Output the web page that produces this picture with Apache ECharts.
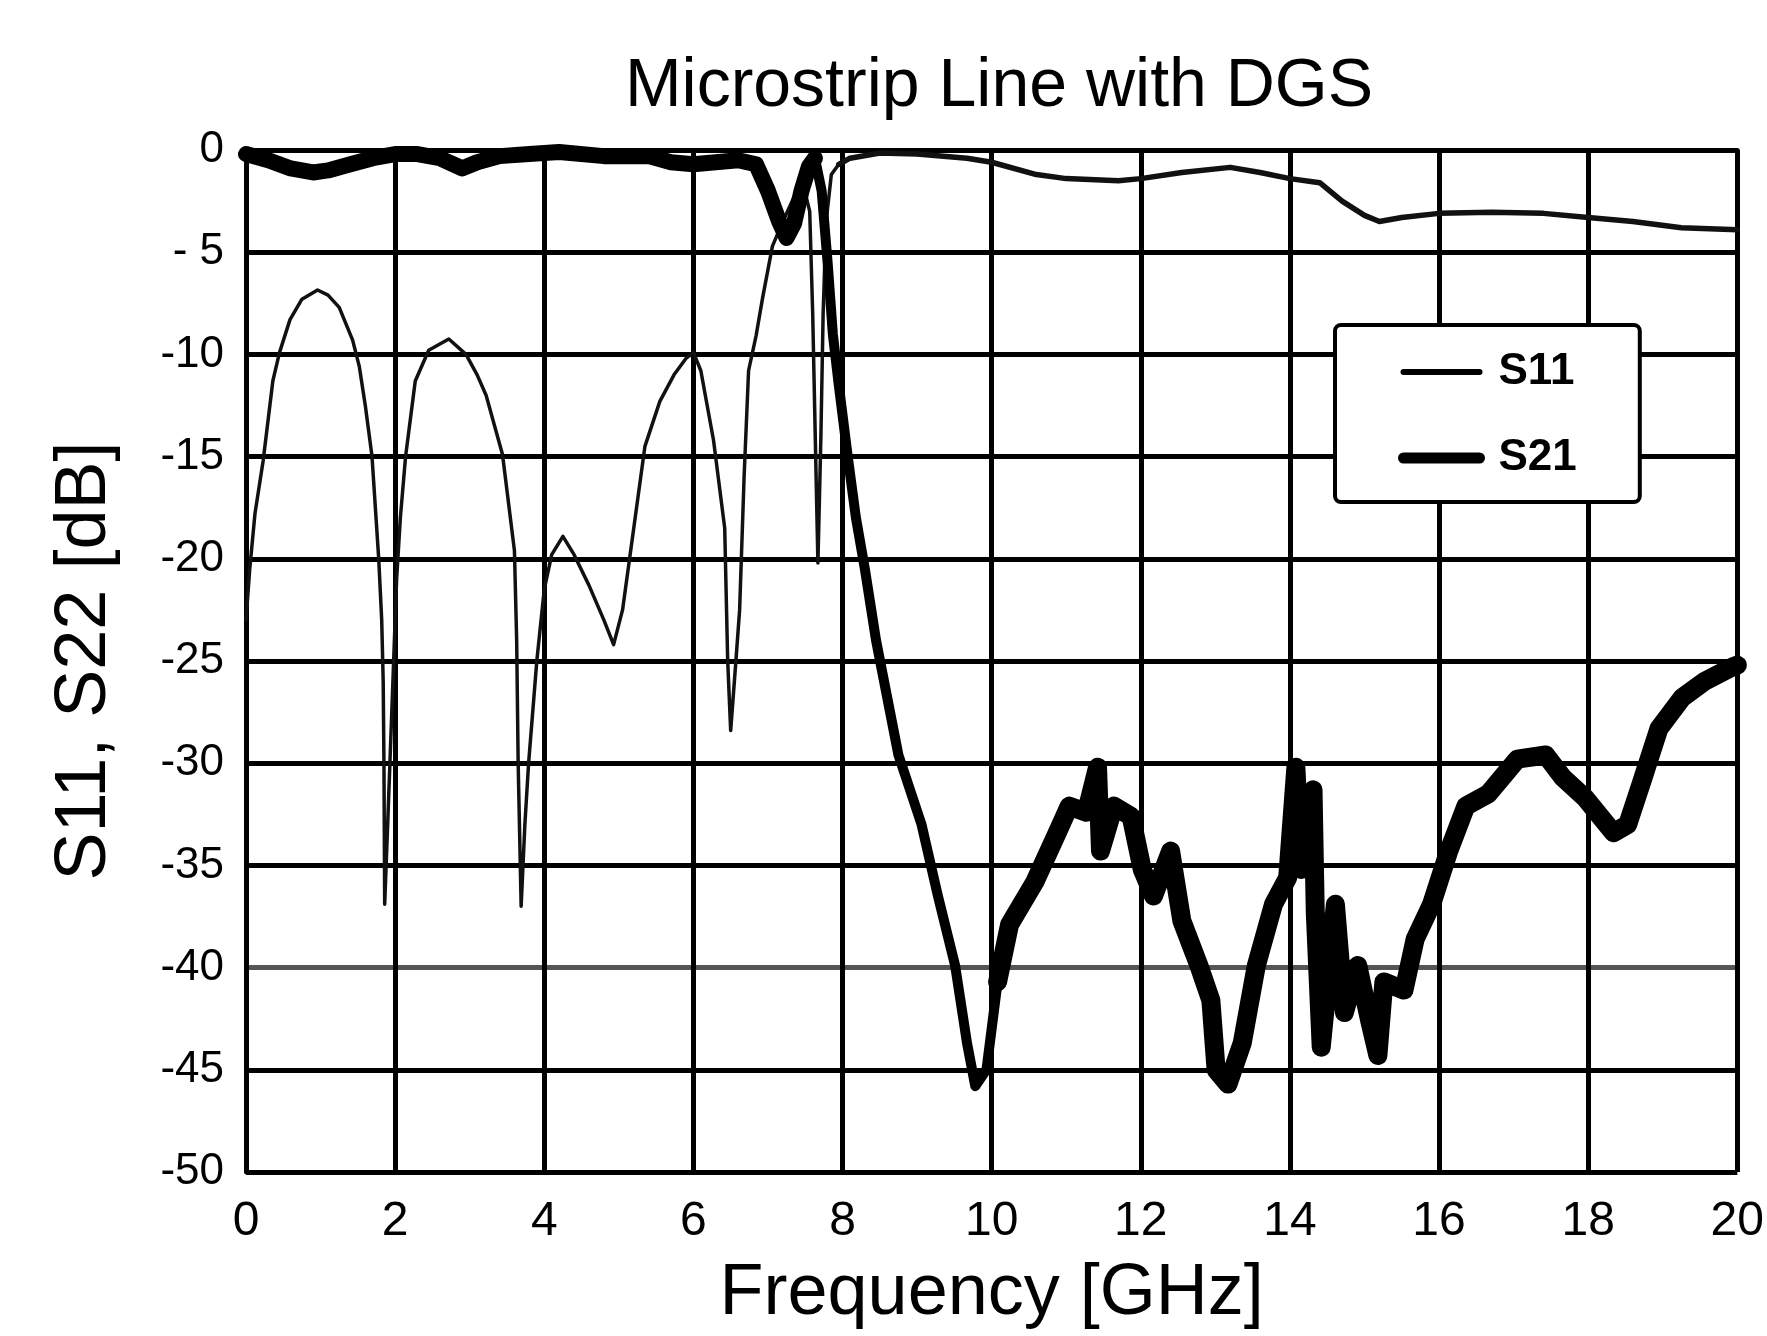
<!DOCTYPE html>
<html>
<head>
<meta charset="utf-8">
<style>
  html, body { margin: 0; padding: 0; background: #fff; }
  #chart { width: 1767px; height: 1336px; }
</style>
<script src="https://cdn.jsdelivr.net/npm/echarts@6/dist/echarts.min.js"></script>
</head>
<body>
<div id="chart"></div>
<script>
// ---------- data ----------
const titleText = 'Microstrip Line with DGS';
const xAxisName = 'Frequency [GHz]';
const yAxisName = 'S11, S22 [dB]';
const seriesNames = ['S11', 'S21'];

const xTicks = [0, 2, 4, 6, 8, 10, 12, 14, 16, 18, 20];
const yTickValues = [-50, -45, -40, -35, -30, -25, -20, -15, -10, -5, 0];
const yTickLabels = ['-50', '-45', '-40', '-35', '-30', '-25', '-20', '-15', '-10', '- 5', '0'];

// S11 (thin line), 0 - 7.95 GHz: [frequency GHz, dB]
const s11Low = [
  [0, -23], [0.05, -20.5], [0.12, -17.8], [0.23, -15.2], [0.36, -11.3], [0.45, -9.9],
  [0.59, -8.3], [0.75, -7.3], [0.96, -6.85], [1.1, -7.1], [1.25, -7.7], [1.43, -9.3],
  [1.52, -10.6], [1.6, -12.5], [1.69, -15], [1.78, -20], [1.82, -23], [1.84, -26],
  [1.85, -30], [1.86, -36.9], [1.9, -33], [1.93, -30], [1.98, -25], [2.02, -21],
  [2.07, -18], [2.14, -15], [2.27, -11.3], [2.45, -9.8], [2.72, -9.25], [2.95, -10],
  [3.1, -11], [3.22, -12.0], [3.44, -14.9], [3.6, -19.6], [3.63, -24], [3.65, -30],
  [3.69, -37], [3.74, -33], [3.79, -30], [3.9, -25], [4.0, -21.5], [4.1, -19.8],
  [4.25, -18.9], [4.4, -19.8], [4.6, -21.3], [4.8, -23], [4.93, -24.2], [5.05, -22.5],
  [5.2, -18.5], [5.35, -14.5], [5.55, -12.3], [5.74, -11.0], [5.9, -10.2], [6.0, -9.9],
  [6.1, -10.8], [6.27, -14.2], [6.42, -18.5], [6.46, -25], [6.5, -28.4], [6.57, -25],
  [6.62, -22.5], [6.68, -16], [6.74, -10.8], [6.84, -9.1], [6.93, -7.2], [7.06, -4.7],
  [7.2, -3.5], [7.35, -2.3], [7.48, -1.8], [7.56, -3], [7.6, -8], [7.64, -15],
  [7.67, -20.2], [7.71, -14], [7.74, -8], [7.78, -3.5], [7.85, -1.2], [7.95, -0.7]
];
// S11, 7.95 - 20 GHz (drawn a little heavier in the reference)
const s11High = [
  [7.95, -0.7], [8.1, -0.4], [8.5, -0.15], [9.0, -0.2], [9.67, -0.4], [10.0, -0.6],
  [10.6, -1.2], [11.0, -1.4], [11.7, -1.5], [12.0, -1.4], [12.55, -1.1], [13.2, -0.85],
  [13.6, -1.1], [14.0, -1.4], [14.4, -1.6], [14.7, -2.5], [15.0, -3.2], [15.2, -3.5],
  [15.5, -3.3], [16.0, -3.1], [16.7, -3.05], [17.4, -3.1], [18.0, -3.3], [18.6, -3.5],
  [19.25, -3.8], [20.0, -3.9]
];

// S21 (thick line), passband 0 - 7.63 GHz
const s21Pass = [
  [0, -0.2], [0.3, -0.5], [0.6, -0.9], [0.9, -1.1], [1.1, -1.0], [1.4, -0.7],
  [1.7, -0.4], [2.0, -0.2], [2.3, -0.2], [2.6, -0.4], [2.9, -0.9], [3.1, -0.6],
  [3.4, -0.3], [3.8, -0.2], [4.2, -0.1], [4.8, -0.3], [5.4, -0.3], [5.7, -0.6],
  [6.0, -0.7], [6.3, -0.6], [6.6, -0.5], [6.84, -0.7], [7.0, -2], [7.15, -3.5],
  [7.25, -4.3], [7.35, -3.6], [7.45, -2], [7.55, -0.8], [7.63, -0.4]
];
// S21, cut-off edge 7.63 - 10.08 GHz
const s21Edge = [
  [7.63, -0.4], [7.72, -2], [7.8, -5.5], [7.87, -9], [7.95, -11.5], [8.07, -15],
  [8.18, -18], [8.3, -20.5], [8.45, -24], [8.75, -29.6], [9.06, -33], [9.28, -36.5],
  [9.51, -39.9], [9.67, -43.7], [9.78, -45.8], [9.93, -45], [10.08, -40.7]
];
// S21, stopband 10.08 - 20 GHz (noisy, heavy trace)
const s21Stop = [
  [10.08, -40.7], [10.24, -37.9], [10.58, -35.8], [10.88, -33.4], [11.04, -32.1], [11.27, -32.4],
  [11.42, -30.2], [11.46, -34.3], [11.64, -32.1], [11.87, -32.6], [12.02, -35.2], [12.17, -36.5],
  [12.4, -34.3], [12.55, -37.7], [12.78, -39.9], [12.94, -41.6], [13.01, -45], [13.17, -45.7],
  [13.36, -43.7], [13.55, -39.9], [13.78, -36.9], [13.97, -35.6], [14.08, -30.2], [14.15, -35.2],
  [14.31, -31.3], [14.34, -37.3], [14.42, -43.9], [14.61, -36.9], [14.73, -42.2], [14.91, -39.9],
  [15.07, -42.6], [15.18, -44.3], [15.26, -40.7], [15.53, -41.1], [15.68, -38.6], [15.9, -36.9],
  [16.13, -34.3], [16.36, -32.1], [16.66, -31.5], [17.05, -29.8], [17.43, -29.6], [17.66, -30.7],
  [17.96, -31.7], [18.34, -33.4], [18.53, -33], [18.72, -30.9], [18.95, -28.3], [19.26, -26.8],
  [19.56, -26.0], [19.93, -25.3], [20, -25.2]
];

// ---------- chart ----------
const FONT = '"Liberation Sans", Arial, Helvetica, sans-serif';
const chart = echarts.init(document.getElementById('chart'), null, { renderer: 'canvas' });

const yLabelMap = {};
yTickValues.forEach((v, i) => { yLabelMap[v] = yTickLabels[i]; });

// grid line colours (bottom to top): -40 line is faint in the reference
const splitColors = yTickValues.map(v => (v === -40 ? '#555' : '#000'));

function lineSeries(name, data, width, color) {
  return {
    name: name,
    type: 'line',
    data: data,
    symbol: 'none',
    smooth: false,
    lineStyle: { color: color, width: width, join: 'round', cap: 'round' },
    itemStyle: { color: color },
    z: name === seriesNames[1] ? 4 : 3
  };
}

chart.setOption({
  backgroundColor: '#fff',
  animation: false,
  title: {
    text: titleText,
    left: 999,
    top: 53,
    textAlign: 'center',
    padding: 0,
    textStyle: { fontFamily: FONT, fontSize: 68, fontWeight: 'normal', color: '#000' }
  },
  legend: {
    orient: 'vertical',
    left: 1335,
    top: 325,
    padding: [25, 63, 22, 63],
    itemGap: 42,
    itemWidth: 76,
    itemHeight: 44,
    borderColor: '#000',
    borderWidth: 4,
    borderRadius: 6,
    backgroundColor: '#fff',
    textStyle: { fontFamily: FONT, fontSize: 44, fontWeight: 'bold', color: '#000', padding: [0, 0, 0, 14] },
    data: [
      { name: seriesNames[0], itemStyle: { opacity: 0 }, lineStyle: { width: 6, color: '#000' } },
      { name: seriesNames[1], itemStyle: { opacity: 0 }, lineStyle: { width: 11, color: '#000' } }
    ]
  },
  grid: { left: 246, right: 17, top: 150, bottom: 164, containLabel: false },
  xAxis: {
    type: 'value',
    min: xTicks[0],
    max: xTicks[xTicks.length - 1],
    interval: 2,
    name: xAxisName,
    nameLocation: 'middle',
    nameGap: 86,
    nameTextStyle: { fontFamily: FONT, fontSize: 72, color: '#000' },
    axisLine: { show: true, lineStyle: { color: '#000', width: 5 } },
    axisTick: { show: false },
    axisLabel: { fontFamily: FONT, fontSize: 48, color: '#000', margin: 26 },
    splitLine: { show: true, lineStyle: { color: '#000', width: 5 } }
  },
  yAxis: {
    type: 'value',
    min: yTickValues[0],
    max: yTickValues[yTickValues.length - 1],
    interval: 5,
    name: yAxisName,
    nameLocation: 'middle',
    nameGap: 125,
    nameTextStyle: { fontFamily: FONT, fontSize: 72, color: '#000' },
    axisLine: { show: true, lineStyle: { color: '#000', width: 5 } },
    axisTick: { show: false },
    axisLabel: {
      fontFamily: FONT, fontSize: 44, color: '#000', margin: 22,
      formatter: v => (yLabelMap[v] !== undefined ? yLabelMap[v] : String(v))
    },
    splitLine: { show: true, lineStyle: { color: splitColors, width: 5 } }
  },
  series: [
    lineSeries(seriesNames[0], s11Low, 3.5, '#111'),
    lineSeries(seriesNames[0], s11High, 5.5, '#111'),
    lineSeries(seriesNames[1], s21Pass, 16, '#000'),
    lineSeries(seriesNames[1], s21Edge, 10, '#000'),
    lineSeries(seriesNames[1], s21Stop, 19, '#000')
  ]
});
</script>
</body>
</html>
